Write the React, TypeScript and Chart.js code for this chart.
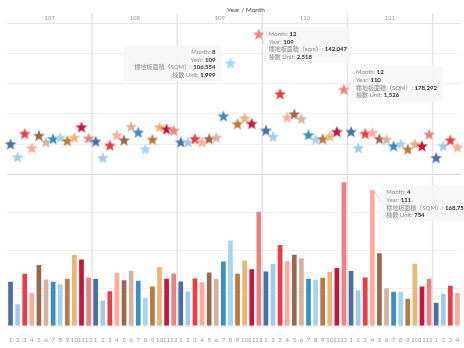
import { useEffect, useRef } from "react";
import { Chart, registerables } from "chart.js";
Chart.register(...registerables);

const FONT = "Lato, 'Noto Sans CJK TC', 'Noto Sans', sans-serif";

const years = ["107", "108", "109", "110", "111", "112"];
const monthsPerYear = [12, 12, 12, 12, 12, 4];

// 樓地板面積 (SQM) per month
const floorArea107 = [55700, 27800, 65600, 41800, 76400, 58500, 55700, 52500, 59300, 89100, 83200, 60800];
const floorArea108 = [59300, 32600, 44100, 66400, 57600, 69200, 56900, 35800, 49700, 74000, 59300, 66000];
const floorArea109 = [56000, 43800, 59600, 55200, 67200, 59300, 80800, 106554, 65600, 82000, 71200, 142047];
const floorArea110 = [68400, 77500, 101000, 81100, 89100, 84700, 59300, 58100, 60500, 67600, 72800, 178292];
const floorArea111 = [68800, 45300, 60800, 168759, 90700, 47700, 43300, 42900, 34600, 77900, 49700, 59300];
const floorArea112 = [29800, 40900, 50900, 41800];

// 棟數 Unit per month
const units107 = [548, 315, 735, 478, 700, 583, 642, 665, 607, 665, 852, 653];
const units108 = [595, 303, 525, 712, 618, 863, 758, 455, 630, 852, 817, 793];
const units109 = [583, 583, 642, 583, 642, 665, 1050, 1999, 910, 1015, 915, 2518];
const units110 = [793, 683, 1447, 1027, 1085, 1003, 712, 630, 642, 688, 770, 1526];
const units111 = [770, 478, 735, 754, 642, 630, 513, 548, 455, 548, 513, 723];
const units112 = [303, 513, 618, 490];

const monthColors = [
  "#4a6fa5", "#a1cbec", "#ec3d44", "#fcab9c", "#98694f", "#d8b2a0",
  "#3a8ec6", "#a3d4f1", "#b87a3f", "#ebb574", "#c8143f", "#e8837f",
];

const floorArea = [...floorArea107, ...floorArea108, ...floorArea109, ...floorArea110, ...floorArea111, ...floorArea112];
const units = [...units107, ...units108, ...units109, ...units110, ...units111, ...units112];
const catYear: string[] = [];
const catMonth: number[] = [];
years.forEach((y, k) => {
  for (let m = 1; m <= monthsPerYear[k]; m++) {
    catYear.push(y);
    catMonth.push(m);
  }
});
const labels = catYear.map((y, i) => `${y}/${catMonth[i]}`);

// annotation boxes: which mark, which label variant, where relative to the mark
const notes = [
  { index: 31, on: "star", sqm: "SQM", align: "right", dx: -9, dy: -18, w: 98 },
  { index: 35, on: "star", sqm: "sqm", align: "left", dx: 5, dy: -7, w: 86 },
  { index: 47, on: "star", sqm: "SQM", align: "left", dx: 7, dy: -24, w: 92 },
  { index: 51, on: "bar", sqm: "SQM", align: "left", dx: 9, dy: -4, w: 92 },
];

function makeStar(color: string) {
  const c = document.createElement("canvas");
  const s = 14;
  c.width = s;
  c.height = s;
  const g = c.getContext("2d")!;
  const cx = s / 2, cy = s / 2 + 0.5, R = 6.4, r = 2.8;
  g.beginPath();
  for (let i = 0; i < 10; i++) {
    const a = -Math.PI / 2 + (i * Math.PI) / 5;
    const rad = i % 2 === 0 ? R : r;
    const px = cx + rad * Math.cos(a), py = cy + rad * Math.sin(a);
    if (i === 0) g.moveTo(px, py);
    else g.lineTo(px, py);
  }
  g.closePath();
  g.fillStyle = color;
  g.fill();
  g.strokeStyle = "rgba(255,255,255,0.4)";
  g.lineWidth = 0.5;
  g.stroke();
  return c;
}

const fmt = (n: number) => n.toLocaleString("en-US");

const overlay = {
  id: "overlay",
  beforeDatasetsDraw(chart: any) {
    const { ctx, chartArea, scales } = chart;
    const x = scales.x;
    const step = x.getPixelForValue(1) - x.getPixelForValue(0);
    ctx.save();
    ctx.strokeStyle = "#e4e4e4";
    ctx.lineWidth = 1.5;
    let idx = 0;
    years.forEach((_, k) => {
      if (k > 0) {
        const px = x.getPixelForValue(idx) - step / 2;
        ctx.beginPath();
        ctx.moveTo(px, 13);
        ctx.lineTo(px, chartArea.bottom + 1);
        ctx.stroke();
      }
      idx += monthsPerYear[k];
    });
    ctx.restore();
  },
  afterDraw(chart: any) {
    const { ctx, scales } = chart;
    const x = scales.x;
    const step = x.getPixelForValue(1) - x.getPixelForValue(0);
    ctx.save();
    ctx.textBaseline = "middle";
    ctx.textAlign = "center";
    ctx.fillStyle = "#444";
    ctx.font = `6.5px ${FONT}`;
    ctx.fillText("Year / Month", 246, 10);
    ctx.fillStyle = "#999";
    ctx.font = `6px ${FONT}`;
    let idx = 0;
    years.forEach((y, k) => {
      const start = x.getPixelForValue(idx) - step / 2;
      ctx.fillText(y, start + step * 6, 18);
      idx += monthsPerYear[k];
    });

    const starMeta = chart.getDatasetMeta(1);
    const barMeta = chart.getDatasetMeta(0);
    notes.forEach((n) => {
      const el = n.on === "star" ? starMeta.data[n.index] : barMeta.data[n.index];
      const mx = el.x, my = el.y;
      const h = 36;
      const left = n.align === "right" ? mx + n.dx - n.w : mx + n.dx;
      const top = my + n.dy;
      if (n.align === "left") {
        ctx.strokeStyle = "#c8c8c8";
        ctx.lineWidth = 0.8;
        ctx.beginPath();
        ctx.moveTo(mx + 2, my + 2);
        ctx.lineTo(left, top + h * 0.45);
        ctx.stroke();
      }
      ctx.fillStyle = "rgba(246,246,246,0.94)";
      ctx.fillRect(left, top, n.w, h);
      const rows = [
        ["Month: ", String(catMonth[n.index])],
        ["Year: ", catYear[n.index]],
        [`樓地板面積（${n.sqm}）: `, fmt(floorArea[n.index])],
        ["棟數 Unit: ", fmt(units[n.index])],
      ];
      rows.forEach((r, i) => {
        const ty = top + 7 + i * 7.6;
        ctx.textAlign = "left";
        ctx.font = `6px ${FONT}`;
        const lw = ctx.measureText(r[0]).width;
        ctx.font = `bold 6px ${FONT}`;
        const vw = ctx.measureText(r[1]).width;
        const tx = n.align === "right" ? left + n.w - 6 - lw - vw : left + 5;
        ctx.font = `6px ${FONT}`;
        ctx.fillStyle = "#8a8a8a";
        ctx.fillText(r[0], tx, ty);
        ctx.font = `bold 6px ${FONT}`;
        ctx.fillStyle = "#333";
        ctx.fillText(r[1], tx + lw, ty);
      });
    });
    ctx.restore();
  },
};

export default function App() {
  const ref = useRef<HTMLCanvasElement>(null);
  useEffect(() => {
    const stars = monthColors.map(makeStar);
    const chart = new Chart(ref.current!, {
      type: "bar",
      data: {
        labels,
        datasets: [
          {
            type: "bar",
            data: floorArea,
            yAxisID: "yBar",
            backgroundColor: catMonth.map((m) => monthColors[m - 1]),
            borderColor: "rgba(255,255,255,0.3)",
            borderWidth: 0.7,
            barPercentage: 0.86,
            categoryPercentage: 1,
          },
          {
            type: "line",
            data: units,
            yAxisID: "yStar",
            showLine: false,
            pointStyle: catMonth.map((m) => stars[m - 1]) as any,
            pointRadius: 6,
          },
        ],
      },
      options: {
        animation: false,
        responsive: false,
        events: [],
        layout: { padding: { top: 23, bottom: 2, left: 0, right: 0 } },
        plugins: { legend: { display: false }, tooltip: { enabled: false } },
        scales: {
          x: {
            grid: { display: false },
            border: { display: false },
            ticks: {
              autoSkip: false,
              maxRotation: 0,
              minRotation: 0,
              padding: 2,
              color: "#9a9a9a",
              font: { size: 6.5, family: FONT },
              callback: (_v: any, i: number) => String(catMonth[i]),
            },
          },
          yBar: {
            type: "linear",
            position: "left",
            stack: "panel",
            stackWeight: 1,
            min: 0,
            max: 187000,
            ticks: { display: false, stepSize: 50000 },
            grid: {
              drawTicks: false,
              color: (c: any) => (c.tick && c.tick.value === 187000 ? "#d6d6d6" : "#efefef"),
            },
            border: { display: false },
          },
          yStar: {
            type: "linear",
            position: "left",
            stack: "panel",
            stackWeight: 1,
            min: 0,
            max: 2720,
            ticks: { display: false, stepSize: 500 },
            grid: {
              drawTicks: false,
              color: (c: any) => (c.tick && c.tick.value === 0 ? "#d6d6d6" : c.tick && c.tick.value === 2720 ? "#e6e6e6" : "#efefef"),
            },
            border: { display: false },
          },
        },
      } as any,
      plugins: [overlay],
    });
    return () => chart.destroy();
  }, []);
  return (
    <div style={{ position: "fixed", left: 0, top: 0, width: 464, height: 348, overflow: "hidden", background: "#fff" }}>
      <canvas ref={ref} width={468} height={348} style={{ width: 468, height: 348, display: "block" }} />
    </div>
  );
}
